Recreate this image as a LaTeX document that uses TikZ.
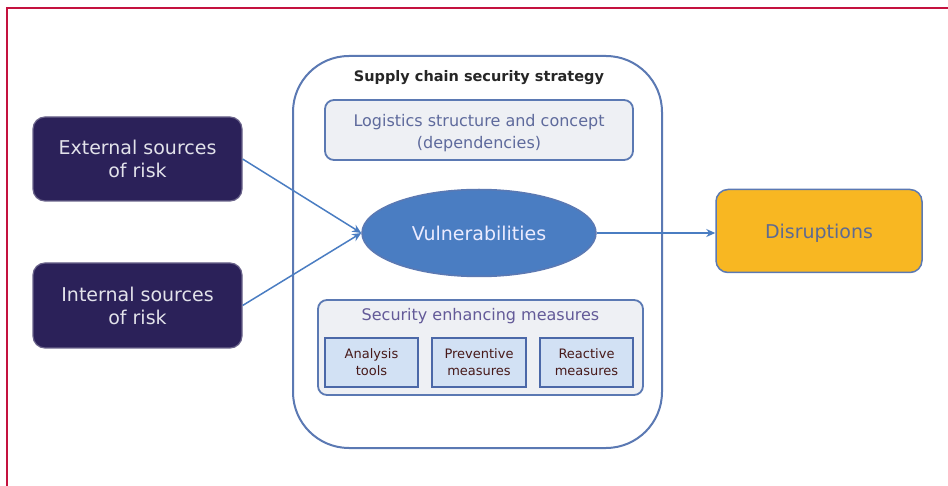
\documentclass[tikz,border=0pt]{standalone}
\usepackage{fontspec}
\setmainfont{DejaVu Sans}
\usetikzlibrary{arrows.meta,shapes.geometric}
\definecolor{frame}{HTML}{C4123F}
\definecolor{navy}{HTML}{2B2159}
\definecolor{navytext}{HTML}{E2E2EA}
\definecolor{bord}{HTML}{5B79B3}
\definecolor{paleg}{HTML}{EEF0F4}
\definecolor{palegtext}{HTML}{5E6A9C}
\definecolor{vul}{HTML}{4A7DC2}
\definecolor{subfill}{HTML}{D2E1F4}
\definecolor{subbord}{HTML}{4B68A8}
\definecolor{orng}{HTML}{F8B722}
\definecolor{orngtext}{HTML}{5D6A92}
\definecolor{arr}{HTML}{4A7DC2}
\tikzset{
  srcbox/.style={draw=navy!70!white, line width=1.2pt, fill=navy, rounded corners=12pt, text=navytext, align=center, font=\fontsize{19}{23}\selectfont, inner sep=0pt},
  grebox/.style={draw=bord, line width=1.8pt, fill=paleg, rounded corners=9pt, align=center, inner sep=0pt},
  subbox/.style={draw=subbord, line width=1.6pt, fill=subfill, align=center, inner sep=0pt, text=black!80!red!90, font=\fontsize{13}{17}\selectfont},
  conn/.style={draw=arr, line width=1.5pt, -{Stealth[length=9pt,width=8pt]}},
}
\begin{document}
\begin{tikzpicture}[x=1pt,y=-1pt]
\useasboundingbox (0,0) rectangle (948,486);
\fill[white] (0,0) rectangle (948,486);
% frame
\draw[frame, line width=2.2pt] (7,486) -- (7,8) -- (948,8);
% outer strategy box
\node[draw=bord, line width=2pt, fill=white, rounded corners=56pt, minimum width=369pt, minimum height=392pt, inner sep=0pt] (outer) at (477.5,252) {};
\node[font=\bfseries\fontsize{14.5}{17}\selectfont, text=black!85] (title) at (479,78) {Supply chain security strategy};
% logistics
\node[grebox, minimum width=308pt, minimum height=60pt] (log) at (479,130) {};
\node[text=palegtext, align=center, font=\fontsize{16}{22}\selectfont] (logt) at (479,133) {Logistics structure and concept\\(dependencies)};
% vulnerabilities
\node[ellipse, draw=bord, line width=1.5pt, fill=vul, minimum width=234pt, minimum height=87pt, inner sep=0pt, text=white!92!blue, font=\fontsize{19}{22}\selectfont] (vul) at (479,233) {Vulnerabilities};
% security enhancing
\node[grebox, minimum width=325pt, minimum height=95pt] (sec) at (480.5,347.5) {};
\node[text=palegtext!85!violet, font=\fontsize{16}{19}\selectfont] (seclab) at (480.5,316) {Security enhancing measures};
\node[subbox, minimum width=93pt, minimum height=49pt] (ana) at (371.5,362.5) {Analysis\\tools};
\node[subbox, minimum width=94pt, minimum height=49pt] (pre) at (479,362.5) {Preventive\\measures};
\node[subbox, minimum width=93pt, minimum height=49pt] (rea) at (586.5,362.5) {Reactive\\measures};
% sources
\node[srcbox, minimum width=209pt, minimum height=84pt] (ext) at (137.5,159) {External sources\\of risk};
\node[srcbox, minimum width=209pt, minimum height=85pt] (int) at (137.5,305.5) {Internal sources\\of risk};
% disruptions
\node[draw=bord, line width=1.5pt, fill=orng, rounded corners=12pt, minimum width=206pt, minimum height=83pt, inner sep=0pt] (dis) at (819,231) {};
\node[text=orngtext, font=\fontsize{19}{22}\selectfont] (dist) at (819,233) {Disruptions};
% connectors
\draw[conn] (ext.east) -- (vul.west);
\draw[conn] (int.east) -- (vul.west);
\draw[conn] (vul.east) -- (vul.east -| dis.west);
\end{tikzpicture}
\end{document}
